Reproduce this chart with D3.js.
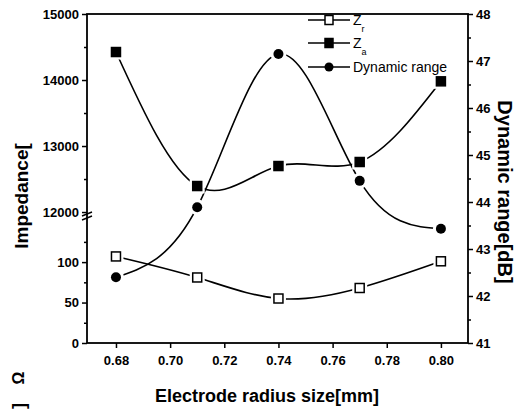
<!DOCTYPE html>
<html>
<head>
<meta charset="utf-8">
<script src="https://cdn.jsdelivr.net/npm/d3@7"></script>
<style>
  body { margin: 0; background: #fff; }
  svg { font-family: Arial, "Liberation Sans", sans-serif; }
</style>
</head>
<body>
<svg id="chart" width="515" height="414"></svg>
<script>
// data
const radius = [0.68, 0.71, 0.74, 0.77, 0.80];
const zr = [107, 81, 55, 68, 101];
const za = [14424, 12394, 12697, 12758, 13980];
const dynRange = [42.40, 43.89, 47.15, 44.45, 43.43];

const xTicks = [0.68, 0.70, 0.72, 0.74, 0.76, 0.78, 0.80];
const lowTicks = [0, 50, 100];
const highTicks = [12000, 13000, 14000, 15000];
const rightTicks = [41, 42, 43, 44, 45, 46, 47, 48];

const plotL = 87, plotR = 468, plotT = 14, plotB = 343, breakY = 216;

const svg = d3.select('#chart');

//SCALES
const x = d3.scaleLinear().domain([0.6693, 0.81]).range([plotL, plotR]);
const yLow = d3.scaleLinear().domain([0, 157]).range([plotB, breakY]);
const yHigh = d3.scaleLinear().domain([11940, 15000]).range([breakY, plotT]);
const yRight = d3.scaleLinear().domain([41, 48]).range([plotB, plotT]);

//AXES
const xAxis = d3.axisBottom(x).tickValues(xTicks).tickFormat(d3.format('.2f')).tickSize(5);
const xMinor = d3.axisBottom(x).tickValues(d3.range(0.67, 0.815, 0.01)).tickFormat('').tickSize(3);

const gx = svg.append('g').attr('transform', `translate(0,${plotB})`);
gx.call(xMinor);
gx.call(xAxis);

const gl = svg.append('g').attr('transform', `translate(${plotL},0)`);
gl.append('g').call(d3.axisLeft(yLow).tickValues(lowTicks).tickFormat(d3.format('d')).tickSize(5));
gl.append('g').call(d3.axisLeft(yLow).tickValues([25, 75, 125]).tickFormat('').tickSize(3));
gl.append('g').call(d3.axisLeft(yHigh).tickValues(highTicks).tickFormat(d3.format('d')).tickSize(5));
gl.append('g').call(d3.axisLeft(yHigh).tickValues([12500, 13500, 14500]).tickFormat('').tickSize(3));

const gr = svg.append('g').attr('transform', `translate(${plotR},0)`);
gr.append('g').call(d3.axisRight(yRight).tickValues(rightTicks).tickFormat(d3.format('d')).tickSize(5));
gr.append('g').call(d3.axisRight(yRight).tickValues(d3.range(41.5, 48, 1)).tickFormat('').tickSize(3));

svg.selectAll('.domain').remove();
svg.selectAll('.tick line').attr('stroke', '#000').attr('stroke-width', 1.5);
svg.selectAll('.tick text')
  .attr('font-size', 13)
  .attr('font-weight', 'bold')
  .attr('fill', '#000');
gx.selectAll('.tick text').attr('dy', '1.1em');

// frame
svg.append('rect')
  .attr('x', plotL).attr('y', plotT)
  .attr('width', plotR - plotL).attr('height', plotB - plotT)
  .attr('fill', 'none').attr('stroke', '#000').attr('stroke-width', 1.8);

// axis break marks
[-2, 2].forEach((o) => {
  svg.append('line')
    .attr('x1', plotL - 5).attr('y1', breakY + o + 2)
    .attr('x2', plotL + 5).attr('y2', breakY + o - 2)
    .attr('stroke', '#000').attr('stroke-width', 1.5);
});

//CURVES
const line = (ys) => d3.line()
  .x((d, i) => x(radius[i]))
  .y((d) => ys(d))
  .curve(d3.curveNatural);

const series = [
  { vals: zr, y: yLow, shape: 'open' },
  { vals: za, y: yHigh, shape: 'square' },
  { vals: dynRange, y: yRight, shape: 'circle' },
];

series.forEach((s) => {
  svg.append('path')
    .attr('d', line(s.y)(s.vals))
    .attr('fill', 'none')
    .attr('stroke', '#000')
    .attr('stroke-width', 1.6);
});

function marker(g, shape, cx, cy) {
  // white halo leaves the small gap seen round each point
  if (shape === 'circle') {
    g.append('circle').attr('cx', cx).attr('cy', cy).attr('r', 8).attr('fill', '#fff');
    g.append('circle').attr('cx', cx).attr('cy', cy).attr('r', 5).attr('fill', '#000');
  } else {
    g.append('rect').attr('x', cx - 7.5).attr('y', cy - 7.5).attr('width', 15).attr('height', 15).attr('fill', '#fff');
    g.append('rect').attr('x', cx - 4.5).attr('y', cy - 4.5).attr('width', 9).attr('height', 9)
      .attr('fill', shape === 'open' ? '#fff' : '#000')
      .attr('stroke', '#000').attr('stroke-width', 1.5);
  }
}

series.forEach((s) => {
  const g = svg.append('g');
  s.vals.forEach((v, i) => marker(g, s.shape, x(radius[i]), s.y(v)));
});

//LEGEND
const legend = svg.append('g');
const rows = [
  { label: 'Z', sub: 'r', shape: 'open', y: 20 },
  { label: 'Z', sub: 'a', shape: 'square', y: 43 },
  { label: 'Dynamic range', sub: '', shape: 'circle', y: 67 },
];
rows.forEach((r) => {
  legend.append('line')
    .attr('x1', 308).attr('x2', 350).attr('y1', r.y).attr('y2', r.y)
    .attr('stroke', '#000').attr('stroke-width', 1.6);
  const g = legend.append('g');
  if (r.shape === 'circle') {
    g.append('circle').attr('cx', 329).attr('cy', r.y).attr('r', 4.5).attr('fill', '#000');
  } else {
    g.append('rect').attr('x', 325).attr('y', r.y - 4.5).attr('width', 8).attr('height', 9)
      .attr('fill', r.shape === 'open' ? '#fff' : '#000')
      .attr('stroke', '#000').attr('stroke-width', 1.5);
  }
  const t = legend.append('text')
    .attr('x', 353).attr('y', r.y + 5)
    .attr('font-size', 14)
    .text(r.label);
  if (r.sub) {
    t.append('tspan').attr('font-size', 9).attr('dy', 7).text(r.sub);
  }
});

//TITLES
svg.append('text')
  .attr('x', 267).attr('y', 402)
  .attr('text-anchor', 'middle')
  .attr('font-size', 18)
  .attr('font-weight', 'bold')
  .text('Electrode radius size[mm]');

svg.append('text')
  .attr('transform', 'translate(28,196) rotate(-90)')
  .attr('text-anchor', 'middle')
  .attr('font-size', 19)
  .attr('font-weight', 'bold')
  .text('Impedance[');

svg.append('text')
  .attr('transform', 'translate(24,378) rotate(-90)')
  .attr('text-anchor', 'middle')
  .attr('font-size', 16)
  .attr('font-weight', 'bold')
  .text('Ω');

svg.append('text')
  .attr('transform', 'translate(25,406) rotate(-90)')
  .attr('text-anchor', 'middle')
  .attr('font-size', 18)
  .attr('font-weight', 'bold')
  .text(']');

svg.append('text')
  .attr('transform', 'translate(498,192) rotate(90)')
  .attr('text-anchor', 'middle')
  .attr('font-size', 20)
  .attr('font-weight', 'bold')
  .text('Dynamic range[dB]');
</script>
</body>
</html>
